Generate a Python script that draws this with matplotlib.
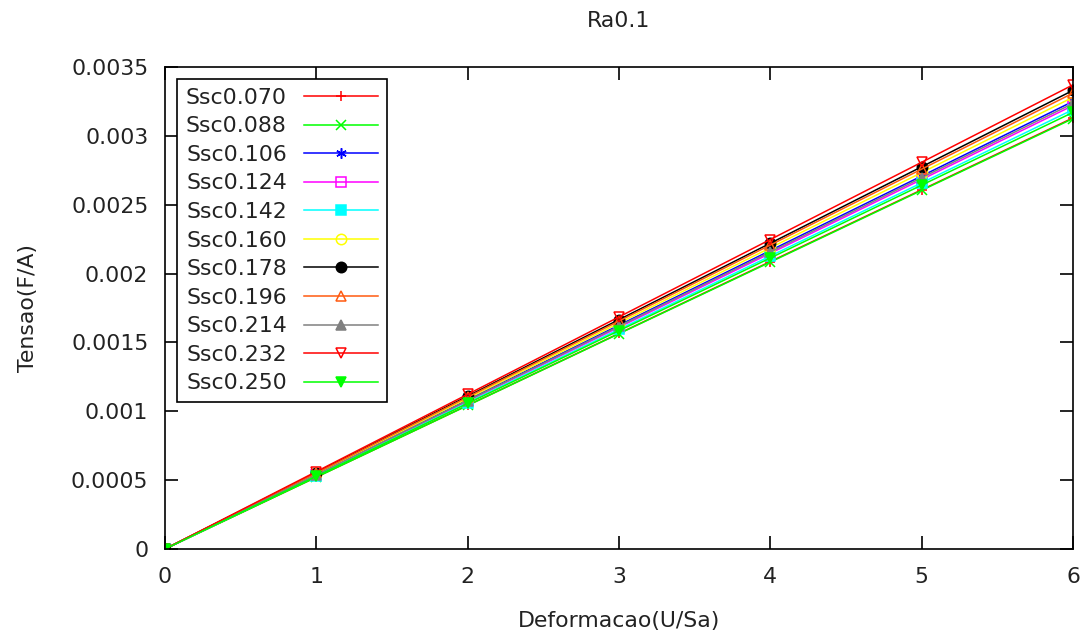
import matplotlib
matplotlib.use('Agg')
from matplotlib import pyplot as plt

# deformation steps
x = [0, 1, 2, 3, 4, 5, 6]

labels = ['Ssc0.070', 'Ssc0.088', 'Ssc0.106', 'Ssc0.124', 'Ssc0.142', 'Ssc0.160',
          'Ssc0.178', 'Ssc0.196', 'Ssc0.214', 'Ssc0.232', 'Ssc0.250']

ssc070 = [0, 0.000522, 0.001043, 0.001565, 0.002087, 0.002608, 0.003130]
ssc088 = [0, 0.000521, 0.001042, 0.001563, 0.002083, 0.002604, 0.003125]
ssc106 = [0, 0.000542, 0.001083, 0.001625, 0.002167, 0.002708, 0.003250]
ssc124 = [0, 0.000537, 0.001073, 0.001610, 0.002147, 0.002683, 0.003220]
ssc142 = [0, 0.000532, 0.001063, 0.001595, 0.002127, 0.002658, 0.003190]
ssc160 = [0, 0.000547, 0.001093, 0.001640, 0.002187, 0.002733, 0.003280]
ssc178 = [0, 0.000555, 0.001110, 0.001665, 0.002220, 0.002775, 0.003330]
ssc196 = [0, 0.000552, 0.001103, 0.001655, 0.002207, 0.002758, 0.003310]
ssc214 = [0, 0.000539, 0.001078, 0.001618, 0.002157, 0.002696, 0.003235]
ssc232 = [0, 0.000562, 0.001123, 0.001685, 0.002247, 0.002808, 0.003370]
ssc250 = [0, 0.000528, 0.001057, 0.001585, 0.002113, 0.002642, 0.003170]

series = [ssc070, ssc088, ssc106, ssc124, ssc142, ssc160,
          ssc178, ssc196, ssc214, ssc232, ssc250]

# (color, marker, filled)
styles = [
    ('#ff0000', '+', True),
    ('#00ff00', 'x', True),
    ('#0000ff', (6, 2, 0), True),
    ('#ff00ff', 's', False),
    ('#00ffff', 's', True),
    ('#ffff00', 'o', False),
    ('#000000', 'o', True),
    ('#ff5a10', '^', False),
    ('#808080', '^', True),
    ('#ff0000', 'v', False),
    ('#00ff00', 'v', True),
]

txt = '#222222'
fs = 15.8

fig = plt.figure(figsize=(10.87, 6.42), dpi=100)
ax = fig.add_axes([0.1518, 0.1449, 0.8353, 0.7508])

for lab, ys, (c, m, filled) in zip(labels, series, styles):
    ax.plot(x, ys, color=c, lw=1.1, marker=m, markersize=7.5,
            markerfacecolor=c if filled else 'none', markeredgecolor=c,
            markeredgewidth=1.1, label=lab)

ax.set_xlim(0, 6)
ax.set_ylim(0, 0.0035)
ax.set_xticks([0, 1, 2, 3, 4, 5, 6])
ax.set_yticks([0, 0.0005, 0.001, 0.0015, 0.002, 0.0025, 0.003, 0.0035])
ax.set_yticklabels(['0', '0.0005', '0.001', '0.0015', '0.002', '0.0025', '0.003', '0.0035'])
ax.tick_params(direction='in', top=True, right=True, length=9.5, width=1.2,
               labelsize=fs, labelcolor=txt)
ax.tick_params(axis='x', pad=13)
ax.tick_params(axis='y', pad=12)
for s in ax.spines.values():
    s.set_linewidth(1.2)

ax.set_title('Ra0.1', fontsize=fs, color=txt, pad=29)
ax.set_xlabel('Deformacao(U/Sa)', fontsize=fs, color=txt, labelpad=17)
ax.set_ylabel('Tensao(F/A)', fontsize=fs, color=txt, labelpad=24)

leg = ax.legend(loc='upper left', markerfirst=False, prop={'size': fs}, fancybox=False,
                edgecolor='black', framealpha=1, borderaxespad=0.55,
                labelspacing=0.39, handlelength=3.35, borderpad=0.4,
                handletextpad=0.8)
leg.get_frame().set_linewidth(1.2)
for t in leg.get_texts():
    t.set_color(txt)

fig.savefig('out.png', dpi=100)
